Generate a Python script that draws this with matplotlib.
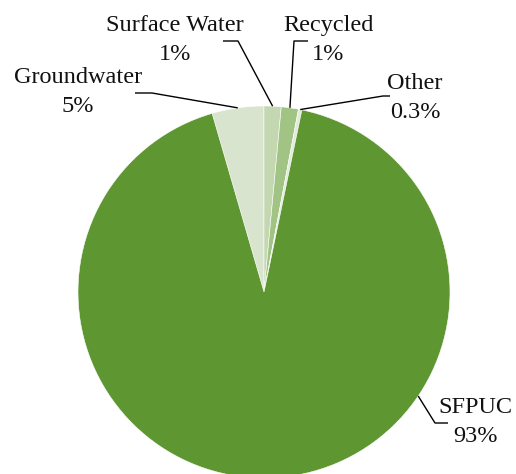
import numpy as np
import matplotlib
matplotlib.use("Agg")
import matplotlib.pyplot as plt

# Water supply sources (share of total, %)
sources = ["Groundwater", "Surface Water", "Recycled", "Other", "SFPUC"]
shares = [4.51, 1.49, 1.49, 0.3, 92.51]
label_decimals = [0, 0, 0, 1, 0]
colors = ["#d8e4cd", "#c3d7b0", "#a1c384", "#e2ebd9", "#5e9632"]

W, H, DPI = 516, 474, 100
fig = plt.figure(figsize=(W / DPI, H / DPI), dpi=DPI)

# pie placement in pixels (center, radius)
cx, cy, R = 264, 292, 186
ax = fig.add_axes([(cx - R) / W, (H - cy - R) / H, 2 * R / W, 2 * R / H])

wedges, _ = ax.pie(shares, colors=colors, startangle=106.2, counterclock=False,
                   radius=1, wedgeprops=dict(edgecolor="white", linewidth=0.4),
                   frame=False)
ax.set_xlim(-1, 1)
ax.set_ylim(-1, 1)
ax.set_aspect("equal")
ax.axis("off")


def to_data(px, py):
    return (px - cx) / R, (cy - py) / R


font = dict(family="Liberation Serif", fontsize=17.5, color="#111111")

# label text center, elbow point and end of the horizontal run (px)
layout = {
    "Groundwater": dict(text=(78, 92), elbow=(152, 93), run=(135, 93)),
    "Surface Water": dict(text=(175, 40), elbow=(238, 41), run=(223, 41)),
    "Recycled": dict(text=(328, 40), elbow=(294, 41), run=(308, 41)),
    "Other": dict(text=(415, 98), elbow=(383, 96), run=(390, 96)),
    "SFPUC": dict(text=(475, 422), elbow=(435, 423), run=(448, 423), angle=-34),
}

for name, share, dec, w in zip(sources, shares, label_decimals, wedges):
    lay = layout[name]
    ang = lay.get("angle", (w.theta1 + w.theta2) / 2)
    ax_pt = (np.cos(np.radians(ang)), np.sin(np.radians(ang)))
    ex, ey = to_data(*lay["elbow"])
    rx, ry = to_data(*lay["run"])
    ax.plot([ax_pt[0], ex, rx], [ax_pt[1], ey, ry], color="black", lw=1.0,
            clip_on=False, solid_capstyle="butt")
    tx, ty = to_data(*lay["text"])
    ax.text(tx, ty, f"{name}\n{share:.{dec}f}%", ha="center", va="center",
            linespacing=1.55, clip_on=False, **font)

fig.savefig("out.png", dpi=DPI)
